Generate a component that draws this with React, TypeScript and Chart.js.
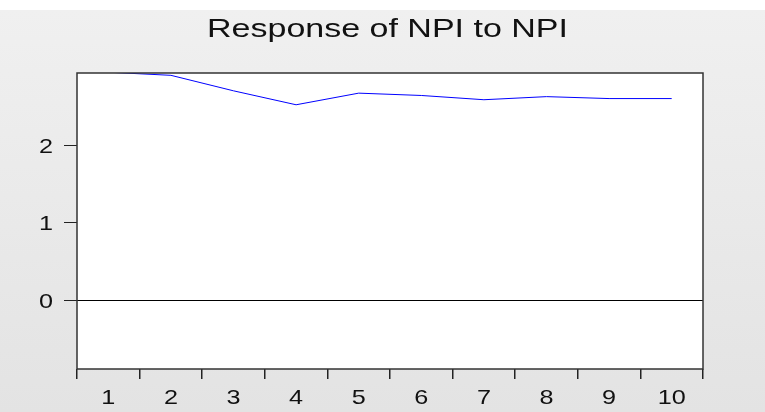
import React, { useEffect, useRef } from "react";
import { Chart, registerables } from "chart.js";

Chart.register(...registerables);

const periods = ["1", "2", "3", "4", "5", "6", "7", "8", "9", "10"];
const responseValues = [2.94, 2.9, 2.7, 2.52, 2.67, 2.64, 2.585, 2.625, 2.6, 2.6];
const yTickValues = [0, 1, 2];
const titleText = "Response of NPI to NPI";

const FONT = "'Liberation Sans', Arial, sans-serif";
const STRETCH = 1.2;

function drawStretched(ctx: any, text: string, x: number, y: number, align: "center" | "right", sx: number) {
  const w = ctx.measureText(text).width * sx;
  const left = align === "center" ? x - w / 2 : x - w;
  ctx.save();
  ctx.translate(left, y);
  ctx.scale(sx, 1);
  ctx.fillText(text, 0, 0);
  ctx.restore();
}

const bgPlugin = {
  id: "bgPlugin",
  beforeDraw(chart: any) {
    const { ctx, width, height } = chart;
    ctx.save();
    ctx.fillStyle = "#ffffff";
    ctx.fillRect(0, 0, width, height);
    const g = ctx.createLinearGradient(0, 10, 0, height);
    g.addColorStop(0, "#f0f0f0");
    g.addColorStop(1, "#e3e3e3");
    ctx.fillStyle = g;
    ctx.fillRect(0, 10, width, height - 10);
    const a = chart.chartArea;
    ctx.fillStyle = "#ffffff";
    ctx.fillRect(a.left, a.top, a.right - a.left, a.bottom - a.top);
    ctx.restore();
  },
  afterDraw(chart: any) {
    const { ctx } = chart;
    const a = chart.chartArea;
    ctx.save();
    ctx.strokeStyle = "#333333";
    ctx.lineWidth = 1.5;
    ctx.strokeRect(a.left, a.top, a.right - a.left, a.bottom - a.top);
    ctx.restore();

    ctx.save();
    ctx.fillStyle = "#111111";
    ctx.textAlign = "left";
    ctx.textBaseline = "alphabetic";
    // title
    ctx.font = `25px ${FONT}`;
    const w = ctx.measureText(titleText).width;
    const target = 361;
    drawStretched(ctx, titleText, 387.5, 37, "center", target / w);
    // tick labels
    ctx.font = `21px ${FONT}`;
    const xs = chart.scales.x;
    xs.ticks.forEach((t: any, i: number) => {
      const label = String(periods[t.value] ?? t.label);
      drawStretched(ctx, label, xs.getPixelForTick(i), 404, "center", STRETCH);
    });
    const ys = chart.scales.y;
    yTickValues.forEach((v) => {
      drawStretched(ctx, String(v), 53, ys.getPixelForValue(v) + 7.5, "right", STRETCH);
    });
    ctx.restore();
  },
};

export default function App() {
  const ref = useRef<HTMLCanvasElement | null>(null);
  useEffect(() => {
    if (!ref.current) return;
    const chart = new Chart(ref.current, {
      type: "line",
      data: {
        labels: periods,
        datasets: [
          {
            data: responseValues,
            borderColor: "#0000ff",
            borderWidth: 1,
            pointRadius: 0,
            tension: 0,
            fill: false,
          },
        ],
      },
      options: {
        animation: false,
        responsive: false,
        maintainAspectRatio: false,
        layout: { padding: { left: 0, right: 62, top: 73, bottom: 0 } },
        plugins: { legend: { display: false }, title: { display: false }, tooltip: { enabled: false } },
        scales: {
          x: {
            type: "category",
            offset: true,
            border: { display: false },
            grid: {
              offset: true,
              drawOnChartArea: false,
              drawTicks: true,
              tickLength: 10,
              tickColor: "#222222",
              lineWidth: 1.5,
            },
            ticks: {
              display: false,
              font: { family: FONT, size: 21 },
              maxRotation: 0,
            },
            afterFit(scale: any) {
              scale.height = 43;
            },
          },
          y: {
            min: -0.89,
            max: 2.93,
            border: { display: false },
            afterBuildTicks(scale: any) {
              scale.ticks = yTickValues.map((v) => ({ value: v }));
            },
            grid: {
              drawOnChartArea: true,
              color: (c: any) => (c.tick && c.tick.value === 0 ? "#000000" : "rgba(0,0,0,0)"),
              lineWidth: 1,
              drawTicks: true,
              tickLength: 13,
              tickColor: "#222222",
            },
            ticks: {
              display: false,
              font: { family: FONT, size: 21 },
            },
            afterFit(scale: any) {
              scale.width = 77;
            },
          },
        },
      },
      plugins: [bgPlugin],
    });
    return () => chart.destroy();
  }, []);
  return (
    <div style={{ position: "fixed", left: 0, top: 0, width: 765, height: 412 }}>
      <canvas ref={ref} width={765} height={412} style={{ width: 765, height: 412, display: "block" }} />
    </div>
  );
}
